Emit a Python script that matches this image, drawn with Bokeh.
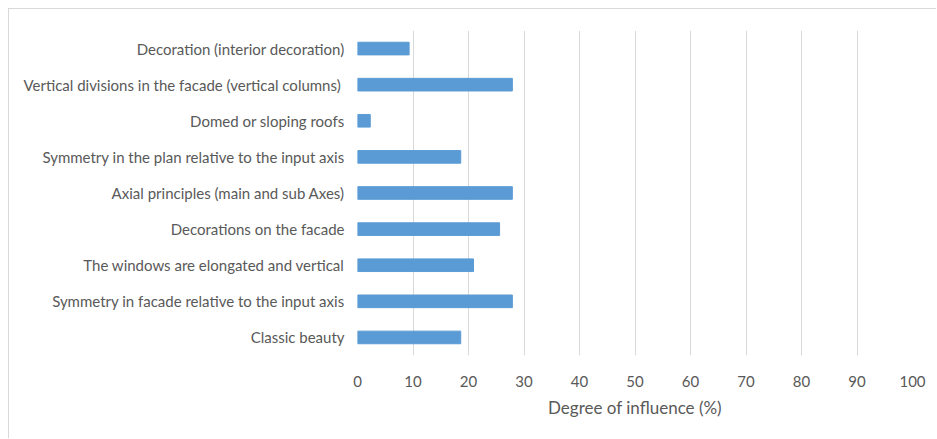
from bokeh.plotting import figure
from bokeh.embed import file_html
from bokeh.resources import INLINE
from bokeh.models import Range1d, FixedTicker

categories = [
    "Decoration (interior decoration)",
    "Vertical divisions in the facade  (vertical columns)",
    "Domed or sloping roofs",
    "Symmetry in the plan relative to the input axis",
    "Axial principles (main and sub Axes)",
    "Decorations on the facade",
    "The windows are elongated and vertical",
    "Symmetry in facade relative to the input axis",
    "Classic beauty",
]
values = [9.3, 27.9, 2.3, 18.6, 27.9, 25.6, 20.9, 27.9, 18.6]
x_ticks = [0, 10, 20, 30, 40, 50, 60, 70, 80, 90, 100]

factors = categories[::-1]

p = figure(
    y_range=factors,
    x_range=Range1d(0, 100),
    width=928, height=430,
    output_backend="svg", toolbar_location=None,
    min_border_left=348, min_border_right=25, min_border_top=21, min_border_bottom=84,
)
p.y_range.range_padding = 0

p.hbar(y=categories, right=values, left=0, height=0.35, color="#5b9bd5", line_color="#5b9bd5")

font = "Lato"
p.xaxis.ticker = FixedTicker(ticks=x_ticks)
p.xaxis.axis_label = "Degree of influence (%)"
p.xaxis.axis_label_text_font = font
p.xaxis.axis_label_text_font_style = "normal"
p.xaxis.axis_label_text_font_size = "17px"
p.xaxis.axis_label_text_color = "#595959"
p.xaxis.axis_label_standoff = 7
for ax in (p.xaxis, p.yaxis):
    ax.axis_line_color = None
    ax.major_tick_line_color = None
    ax.minor_tick_line_color = None
    ax.major_label_text_font = font
    ax.major_label_text_font_size = "15px"
    ax.major_label_text_color = "#595959"
p.xaxis.major_label_standoff = 14
p.yaxis.major_label_standoff = 7

p.xgrid.grid_line_color = "#d9d9d9"
p.xgrid.ticker = FixedTicker(ticks=x_ticks)
p.ygrid.grid_line_color = None
p.outline_line_color = None
p.border_fill_color = "white"
p.background_fill_color = "white"

p.styles = {
    "margin-left": "8px",
    "margin-top": "8px",
    "border-left": "1px solid #d9d9d9",
    "border-top": "1px solid #d9d9d9",
}

open("out.html", "w").write(file_html(p, INLINE))
